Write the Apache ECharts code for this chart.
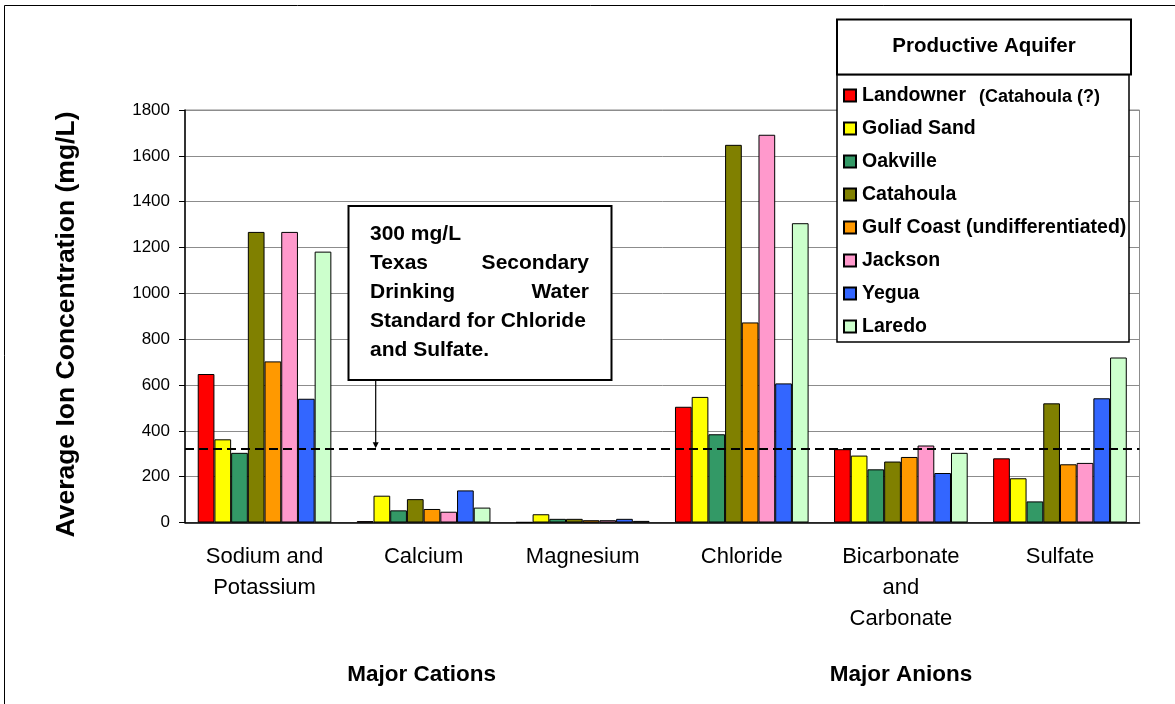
<!DOCTYPE html>
<html>
<head>
<meta charset="utf-8">
<script src="https://cdn.jsdelivr.net/npm/echarts@6/dist/echarts.min.js"></script>
<style>
html,body{margin:0;padding:0;background:#fff;}
#c{width:1175px;height:704px;}
</style>
</head>
<body>
<div id="c"></div>
<script>
const categories = ['Sodium and\nPotassium', 'Calcium', 'Magnesium', 'Chloride', 'Bicarbonate\nand\nCarbonate', 'Sulfate'];
const seriesNames = ['Landowner', 'Goliad Sand', 'Oakville', 'Catahoula', 'Gulf Coast (undifferentiated)', 'Jackson', 'Yegua', 'Laredo'];
const landowner  = [648, 6, 1, 505, 320, 280];
const goliadSand = [363, 117, 36, 548, 292, 193];
const oakville   = [304, 53, 16, 385, 232, 92];
const catahoula  = [1268, 102, 16, 1648, 266, 520];
const gulfCoast  = [703, 59, 10, 873, 286, 254];
const jackson    = [1268, 47, 10, 1692, 336, 260];
const yegua      = [540, 140, 16, 607, 216, 542];
const laredo     = [1182, 65, 7, 1306, 304, 720];
const standardLine = 320;
const yTicks = {min: 0, max: 1800, interval: 200};
const colors = ['#FF0000', '#FFFF00', '#339966', '#808000', '#FF9900', '#FF99CC', '#3366FF', '#CCFFCC'];
const seriesValues = [landowner, goliadSand, oakville, catahoula, gulfCoast, jackson, yegua, laredo];

const FONT = '"Liberation Sans", Arial, sans-serif';

const series = seriesNames.map((name, i) => {
  const s = {
    name: name,
    type: 'bar',
    data: seriesValues[i],
    barGap: '0%',
    barCategoryGap: '16%',
    itemStyle: {color: colors[i], borderColor: '#000', borderWidth: 1},
    emphasis: {disabled: true},
    animation: false
  };
  if (i === 0) {
    s.markLine = {
      silent: true,
      symbol: 'none',
      label: {show: false},
      lineStyle: {color: '#000', type: [9, 5], width: 2},
      data: [{yAxis: standardLine}],
      animation: false
    };
  }
  return s;
});

const chart = echarts.init(document.getElementById('c'));
const boxText = {fontFamily: FONT, fontWeight: 'bold', fontSize: 21, fill: '#000'};
const option = {
  backgroundColor: '#fff',
  animation: false,
  color: colors,
  grid: {left: 185, right: 35.5, top: 110, bottom: 181.5, show: true, borderColor: '#8c8c8c', borderWidth: 1, backgroundColor: 'transparent'},
  xAxis: {
    type: 'category',
    data: categories,
    axisLine: {lineStyle: {color: '#000', width: 1.5}},
    axisTick: {show: false},
    axisLabel: {color: '#000', fontFamily: FONT, fontSize: 22, lineHeight: 31, margin: 19, interval: 0}
  },
  yAxis: {
    type: 'value',
    min: yTicks.min, max: yTicks.max, interval: yTicks.interval,
    axisLine: {show: true, lineStyle: {color: '#000', width: 1.5}},
    axisTick: {show: true, length: 6, lineStyle: {color: '#000'}},
    splitLine: {lineStyle: {color: '#8c8c8c', width: 1}},
    axisLabel: {color: '#000', fontFamily: FONT, fontSize: 17, margin: 15, formatter: v => String(v)}
  },
  legend: {
    orient: 'vertical',
    left: 843,
    top: 85.5,
    padding: 0,
    itemWidth: 12,
    itemHeight: 12,
    itemGap: 13,
    icon: 'rect',
    selectedMode: false,
    textStyle: {color: '#000', fontFamily: FONT, fontWeight: 'bold', fontSize: 19.5, lineHeight: 20, padding: [0, 0, 0, 1]},
    data: seriesNames
  },
  series: series,
  graphic: [
    {type: 'rect', z: 0, silent: true, shape: {x: 4.5, y: 5.5, width: 1300, height: 900}, style: {fill: 'none', stroke: '#000', lineWidth: 1}},
    // legend title box and legend frame
    {type: 'rect', z: 90, silent: true, shape: {x: 837, y: 19.5, width: 294, height: 55}, style: {fill: '#fff', stroke: '#000', lineWidth: 2}},
    {type: 'text', z: 91, silent: true, x: 984, y: 46, style: {text: 'Productive Aquifer', align: 'center', verticalAlign: 'middle', fontFamily: FONT, fontWeight: 'bold', fontSize: 20.5, fill: '#000'}},
    {type: 'rect', z: 1, silent: true, shape: {x: 837, y: 74.5, width: 292, height: 267.5}, style: {fill: '#fff', stroke: '#000', lineWidth: 1.5}},
    {type: 'text', z: 91, silent: true, x: 979, y: 97, style: {text: '(Catahoula (?)', align: 'left', verticalAlign: 'middle', fontFamily: FONT, fontWeight: 'bold', fontSize: 18, fill: '#000'}},
    // annotation box
    {type: 'rect', z: 90, silent: true, shape: {x: 348.5, y: 206, width: 263, height: 174}, style: {fill: '#fff', stroke: '#000', lineWidth: 2}},
    {type: 'text', z: 91, silent: true, x: 370, y: 234, style: Object.assign({text: '300 mg/L', align: 'left', verticalAlign: 'middle'}, boxText)},
    {type: 'text', z: 91, silent: true, x: 370, y: 263, style: Object.assign({text: 'Texas', align: 'left', verticalAlign: 'middle'}, boxText)},
    {type: 'text', z: 91, silent: true, x: 589, y: 263, style: Object.assign({text: 'Secondary', align: 'right', verticalAlign: 'middle'}, boxText)},
    {type: 'text', z: 91, silent: true, x: 370, y: 292, style: Object.assign({text: 'Drinking', align: 'left', verticalAlign: 'middle'}, boxText)},
    {type: 'text', z: 91, silent: true, x: 589, y: 292, style: Object.assign({text: 'Water', align: 'right', verticalAlign: 'middle'}, boxText)},
    {type: 'text', z: 91, silent: true, x: 370, y: 321, style: Object.assign({text: 'Standard for Chloride', align: 'left', verticalAlign: 'middle'}, boxText)},
    {type: 'text', z: 91, silent: true, x: 370, y: 350.5, style: Object.assign({text: 'and Sulfate.', align: 'left', verticalAlign: 'middle'}, boxText)},
    // axis title and group labels
    {type: 'text', silent: true, x: 67, y: 324.5, rotation: Math.PI / 2, style: {text: 'Average Ion Concentration (mg/L)', align: 'center', verticalAlign: 'middle', fontFamily: FONT, fontWeight: 'bold', fontSize: 26.5, fill: '#000'}},
    {type: 'text', silent: true, x: 421.7, y: 675, style: {text: 'Major Cations', align: 'center', verticalAlign: 'middle', fontFamily: FONT, fontWeight: 'bold', fontSize: 22.5, fill: '#000'}},
    {type: 'text', silent: true, x: 901, y: 675, style: {text: 'Major Anions', align: 'center', verticalAlign: 'middle', fontFamily: FONT, fontWeight: 'bold', fontSize: 22.5, fill: '#000'}}
  ]
};
chart.setOption(option);

// arrow from annotation box to the standard line
const yLine = chart.convertToPixel({yAxisIndex: 0}, standardLine);
const ax = 375.7;
chart.setOption({
  graphic: option.graphic.concat([
    {type: 'line', z: 92, silent: true, shape: {x1: ax, y1: 380, x2: ax, y2: yLine - 3}, style: {stroke: '#000', lineWidth: 1.2}},
    {type: 'polygon', z: 92, silent: true, shape: {points: [[ax - 3, yLine - 7], [ax + 3, yLine - 7], [ax, yLine - 1]]}, style: {fill: '#000'}}
  ])
}, {replaceMerge: ['graphic']});
</script>
</body>
</html>
